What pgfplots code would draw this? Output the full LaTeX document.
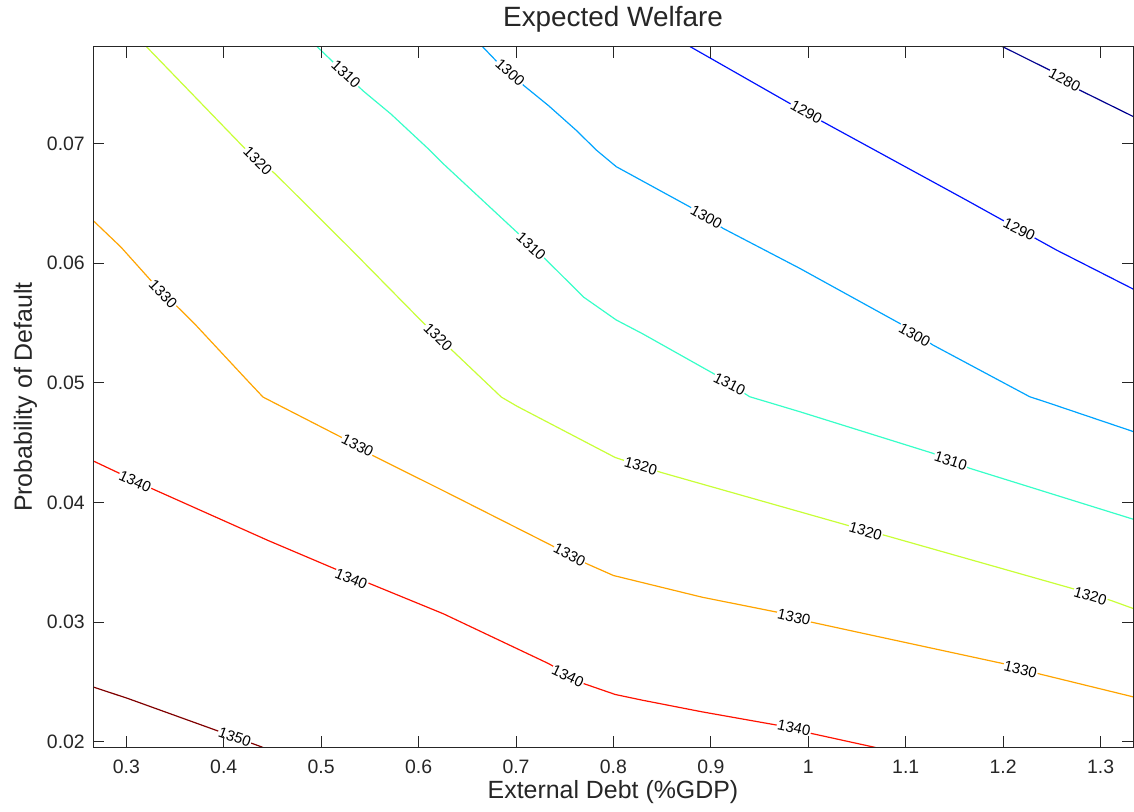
\documentclass[border=0pt]{standalone}
\usepackage{fontspec}
\setmainfont{Liberation Sans}
\usepackage{pgfplots}
\pgfplotsset{compat=1.18}
\definecolor{c1280}{rgb}{0,0,0.56}
\definecolor{c1290}{rgb}{0,0.071,1}
\definecolor{c1300}{rgb}{0,0.643,1}
\definecolor{c1310}{rgb}{0.214,1,0.786}
\definecolor{c1320}{rgb}{0.786,1,0.214}
\definecolor{c1330}{rgb}{1,0.643,0}
\definecolor{c1340}{rgb}{1,0.071,0}
\definecolor{c1350}{rgb}{0.5,0,0}
\definecolor{axgray}{rgb}{0.15,0.15,0.15}
\tikzset{lbl/.style={fill=white, inner sep=0.8bp, text=black, font=\fontsize{15}{15}\selectfont}}
\begin{document}
\begin{tikzpicture}
\begin{axis}[
  scale only axis, width=1040bp, height=700bp,
  xmin=0.2658, xmax=1.3333, ymin=0.01956, ymax=0.07805,
  scaled x ticks=false, scaled y ticks=false,
  axis on top,
  axis line style={draw=axgray, line width=1bp},
  major tick style={draw=axgray, line width=1bp},
  major tick length=11bp,
  xtick={0.3,0.4,0.5,0.6,0.7,0.8,0.9,1,1.1,1.2,1.3},
  xticklabels={0.3,0.4,0.5,0.6,0.7,0.8,0.9,1,1.1,1.2,1.3},
  ytick={0.02,0.03,0.04,0.05,0.06,0.07},
  yticklabels={0.02,0.03,0.04,0.05,0.06,0.07},
  xticklabel style={anchor=base, yshift=-26bp, inner sep=0pt, font=\fontsize{19.5}{20}\selectfont, text=axgray},
  yticklabel style={anchor=east, xshift=-8bp, inner sep=0pt, font=\fontsize{19.5}{20}\selectfont, text=axgray},
  title={Expected Welfare},
  title style={at={(axis description cs:0.5,1.02143)}, anchor=base, inner sep=0pt, font=\fontsize{28}{30}\selectfont, text=axgray},
  xlabel={External Debt (\%GDP)},
  xlabel style={at={(axis description cs:0.5,-0.072857)}, anchor=base, inner sep=0pt, font=\fontsize{25}{27}\selectfont, text=axgray},
  ylabel={Probability of Default},
  ylabel style={at={(axis description cs:-0.05865,0.5)}, anchor=base, inner sep=0pt, font=\fontsize{25}{27}\selectfont, text=axgray},
  every axis plot/.append style={line width=1.2bp, mark=none},
]
% 1350
\addplot[c1350] coordinates {(0.2640,0.02463) (0.3018,0.02361) (0.3917,0.02097) (0.4385,0.01958) (0.4420,0.01946)};
% 1340
\addplot[c1340] coordinates {(0.2640,0.04354) (0.3252,0.04119) (0.4457,0.03681) (0.5464,0.03333) (0.6255,0.03069) (0.7334,0.02653) (0.7694,0.02486) (0.8018,0.02395) (0.8298,0.02347) (0.8909,0.02250) (0.9678,0.02139) (1.0028,0.02070) (1.0657,0.01958) (1.0720,0.01946)};
% 1330
\addplot[c1330] coordinates {(0.2640,0.06370) (0.2946,0.06132) (0.3252,0.05854) (0.3701,0.05492) (0.3971,0.05256) (0.4241,0.05020) (0.4403,0.04880) (0.4601,0.04797) (0.5212,0.04542) (0.5536,0.04389) (0.6255,0.04097) (0.7334,0.03653) (0.7730,0.03486) (0.8000,0.03389) (0.8909,0.03208) (0.9678,0.03083) (1.0028,0.03000) (1.0657,0.02889) (1.2000,0.02653) (1.2385,0.02564) (1.3360,0.02370)};
% 1320
\addplot[c1320] coordinates {(0.3180,0.07830) (0.4205,0.06967) (0.4529,0.06744) (0.5284,0.06132) (0.6058,0.05492) (0.6615,0.05061) (0.6849,0.04880) (0.7011,0.04803) (0.8018,0.04375) (0.8490,0.04250) (1.0413,0.03806) (1.0797,0.03722) (1.2720,0.03278) (1.3105,0.03181) (1.3360,0.03106)};
% 1310
\addplot[c1310] coordinates {(0.4930,0.07830) (0.5428,0.07440) (0.5716,0.07245) (0.6113,0.06944) (0.6255,0.06828) (0.7003,0.06262) (0.7311,0.06025) (0.7694,0.05715) (0.8029,0.05524) (0.8299,0.05409) (0.9021,0.05079) (0.9398,0.04883) (0.9911,0.04758) (1.1279,0.04410) (1.1656,0.04285) (1.3360,0.03853)};
% 1300
\addplot[c1300] coordinates {(0.6630,0.07830) (0.6795,0.07690) (0.7083,0.07481) (0.7335,0.07314) (0.7622,0.07106) (0.7824,0.06944) (0.8029,0.06805) (0.8782,0.06470) (0.9124,0.06290) (0.9911,0.05956) (1.0937,0.05496) (1.1279,0.05315) (1.2272,0.04883) (1.2477,0.04828) (1.3360,0.04585)};
% 1290
\addplot[c1290] coordinates {(0.8740,0.07830) (0.9809,0.07334) (1.0150,0.07180) (1.1622,0.06526) (1.2546,0.06109) (1.3360,0.05772)};
% 1280
\addplot[c1280] coordinates {(1.1940,0.07830) (1.2477,0.07612) (1.2785,0.07445) (1.3360,0.07214)};
% contour labels
\node[lbl, rotate=-19.7] at (axis cs:0.4113,0.02040) {1350};
\node[lbl, rotate=-24.4] at (axis cs:0.3090,0.04175) {1340};
\node[lbl, rotate=-22.7] at (axis cs:0.5309,0.03361) {1340};
\node[lbl, rotate=-25.4] at (axis cs:0.7532,0.02550) {1340};
\node[lbl, rotate=-11.6] at (axis cs:0.9853,0.02116) {1340};
\node[lbl, rotate=-46.5] at (axis cs:0.3378,0.05740) {1330};
\node[lbl, rotate=-26.7] at (axis cs:0.5374,0.04476) {1330};
\node[lbl, rotate=-27.0] at (axis cs:0.7550,0.03562) {1330};
\node[lbl, rotate=-13.0] at (axis cs:0.9853,0.03042) {1330};
\node[lbl, rotate=-13.2] at (axis cs:1.2178,0.02603) {1330};
\node[lbl, rotate=-44.8] at (axis cs:0.4349,0.06855) {1320};
\node[lbl, rotate=-44.7] at (axis cs:0.6201,0.05381) {1320};
\node[lbl, rotate=-16.1] at (axis cs:0.8280,0.04306) {1320};
\node[lbl, rotate=-16.1] at (axis cs:1.0587,0.03758) {1320};
\node[lbl, rotate=-16.4] at (axis cs:1.2895,0.03218) {1320};
\node[lbl, rotate=-42.7] at (axis cs:0.5255,0.07580) {1310};
\node[lbl, rotate=-42.3] at (axis cs:0.7155,0.06140) {1310};
\node[lbl, rotate=-26.6] at (axis cs:0.9192,0.04990) {1310};
\node[lbl, rotate=-17.9] at (axis cs:1.1462,0.04347) {1310};
\node[lbl, rotate=-41.9] at (axis cs:0.6939,0.07592) {1300};
\node[lbl, rotate=-29.0] at (axis cs:0.8953,0.06387) {1300};
\node[lbl, rotate=-29.1] at (axis cs:1.1091,0.05398) {1300};
\node[lbl, rotate=-29.0] at (axis cs:0.9980,0.07264) {1290};
\node[lbl, rotate=-26.0] at (axis cs:1.2165,0.06280) {1290};
\node[lbl, rotate=-27.9] at (axis cs:1.2631,0.07529) {1280};
\end{axis}
\pgfresetboundingbox
\path[use as bounding box] ([shift={(-93bp,-64bp)}]current axis.south west) rectangle ([shift={(1bp,47bp)}]current axis.north east);
\end{tikzpicture}
\end{document}
